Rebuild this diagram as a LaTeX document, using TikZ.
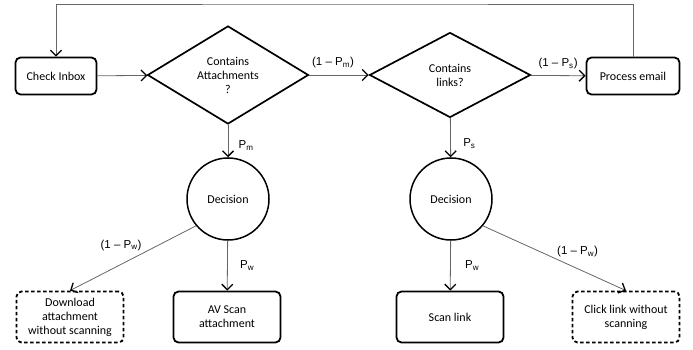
\documentclass[tikz,border=0pt]{standalone}
\usepackage{fontspec}
\setmainfont{Carlito}
\newfontfamily\labfont{Liberation Sans}
\usetikzlibrary{arrows.meta,shapes.geometric}

\begin{document}
\begin{tikzpicture}[x=1pt,y=-1pt,font=\fontsize{12}{14}\selectfont,
    box/.style={draw,line width=1.8pt,rounded corners=5pt,align=center,inner sep=2pt},
    maybebox/.style={box,dash pattern=on 3.5pt off 2.5pt},
    choice/.style={draw,diamond,line width=1.7pt,minimum width=161pt,minimum height=85pt,inner sep=0pt,align=center},
    decide/.style={draw,circle,line width=1.5pt,minimum size=82pt},
    flow/.style={draw=black!60,line width=0.8pt,-{Straight Barb[length=5.5pt,width=11pt,line width=1.3pt,color=black]}},
    prob/.style={font=\labfont\fontsize{11.5}{13}\selectfont}]
  \useasboundingbox (0,0) rectangle (693,350);
  % top row
  \node[box,minimum width=81pt,minimum height=37pt] (inbox) at (56,76) {Check Inbox};
  \node[choice] (att) at (228,75) {Contains\\Attachments\\?};
  \node[choice] (lnk) at (450,75) {Contains\\links?};
  \node[box,minimum width=93pt,minimum height=37pt] (proc) at (633,76) {Process email};
  \coordinate (top) at (345,4);
  % decisions
  \node[decide] (dec1) at (228,199) {Decision};
  \node[decide] (dec2) at (451,199) {Decision};
  % outcomes
  \node[maybebox,minimum width=107pt,minimum height=51pt] (dl) at (70,317) {Download\\attachment\\without scanning};
  \node[box,minimum width=107pt,minimum height=51pt] (av) at (227,317) {AV Scan\\attachment};
  \node[box,minimum width=107pt,minimum height=51pt] (scan) at (450,317) {Scan link};
  \node[maybebox,minimum width=107pt,minimum height=51pt] (click) at (626,317) {Click link without\\scanning};
  % connectors
  \draw[flow] (inbox) -- (att);
  \draw[flow] (att) -- (lnk) node[prob,midway,above=3pt,xshift=-6pt] {(1 – P\textsubscript{m})};
  \draw[flow] (lnk) -- (proc) node[prob,midway,above=3pt] {(1 – P\textsubscript{s})};
  \draw[flow] (proc.north) |- (top) -| (inbox.north);
  \draw[flow] (att) -- (dec1) node[prob,pos=0.65,right=7pt] {P\textsubscript{m}};
  \draw[flow] (lnk) -- (dec2) node[prob,pos=0.65,right=9pt] {P\textsubscript{s}};
  \draw[flow] (dec1) -- (av) node[prob,midway,right=9pt] {P\textsubscript{w}};
  \draw[flow] (dec2) -- (scan) node[prob,midway,right=11pt] {P\textsubscript{w}};
  \draw[flow] (dec1.220) -- (dl.north) node[prob,midway,above=4pt,xshift=-12pt] {(1 – P\textsubscript{w})};
  \draw[flow] (dec2.320) -- (click.north) node[prob,pos=0.62,above=5pt,xshift=6pt] {(1 – P\textsubscript{w})};
\end{tikzpicture}
\end{document}
